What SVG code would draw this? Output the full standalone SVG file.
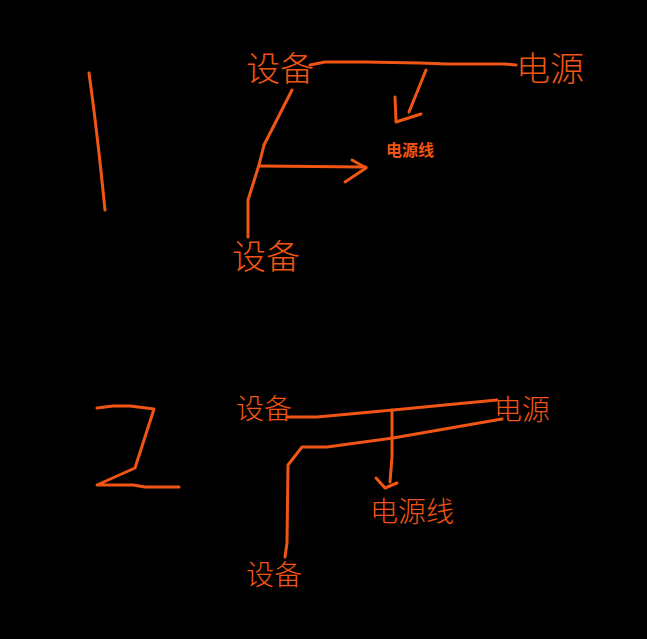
<svg xmlns="http://www.w3.org/2000/svg" width="647" height="639" viewBox="0 0 647 639">
<style>
.bg{fill:#000}
.s{fill:none;stroke:#F05514;stroke-width:3;stroke-linecap:round;stroke-linejoin:round}
.t{fill:#F05514;font-family:"Noto Sans CJK SC",sans-serif;font-weight:200;text-anchor:middle}
</style>
<rect class="bg" width="647" height="639"/>
<g id="num1"><path class="s" d="M89,73 Q97,130 105,210"/></g>
<g id="num2"><path class="s" d="M97,408 L113,406 L130,406 L154,409 L135,468 L97,485 L133,485 L145,487 L179,487"/></g>
<g id="dev1"><text class="t" x="280" y="81" font-size="34">设备</text></g>
<g id="pow1"><text class="t" x="550" y="81" font-size="34">电源</text></g>
<g id="line1"><text class="t" x="410" y="156" font-size="16" style="font-weight:700">电源线</text></g>
<g id="dev2"><text class="t" x="266" y="269" font-size="34">设备</text></g>
<g id="dev3"><text class="t" x="264" y="419" font-size="28">设备</text></g>
<g id="pow2"><text class="t" x="522" y="420" font-size="28">电源</text></g>
<g id="line2"><text class="t" x="412" y="522" font-size="28">电源线</text></g>
<g id="dev4"><text class="t" x="274" y="585" font-size="28">设备</text></g>
<g id="connectors">
<path class="s" d="M310,65 L325,62 L365,62 L420,63 L447,64 L505,64 L516,65"/>
<path class="s" d="M426,70 L409,112"/>
<path class="s" d="M395,97 L396,122 L421,114"/>
<path class="s" d="M292,90 L264,145 L259,165 L248,200 L248,237"/>
<path class="s" d="M260,166 L366,167"/>
<path class="s" d="M345,182 L366,168 L352,160"/>
<path class="s" d="M287,417 L317,417 L393,410 L497,400"/>
<path class="s" d="M502,419 L393,438 L327,447 L302,447 L288,465 L287,543 L285,557"/>
<path class="s" d="M392,410 L392,457 L390,482"/>
<path class="s" d="M376,478 L385,488 L397,483"/>
</g>
</svg>
